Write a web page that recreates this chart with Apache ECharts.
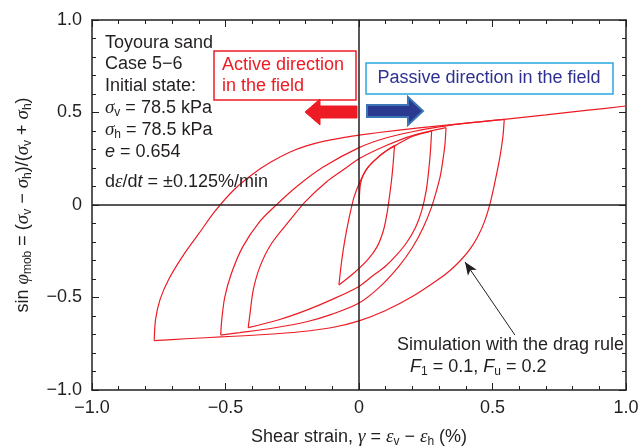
<!DOCTYPE html>
<html>
<head>
<meta charset="utf-8">
<script src="https://cdn.jsdelivr.net/npm/echarts@6/dist/echarts.min.js"></script>
<style>
  html, body { margin: 0; padding: 0; background: #fff; }
  #main { width: 638px; height: 448px; }
</style>
</head>
<body>
<div id="main"></div>
<script>
// axis ticks
var xTicks = [-1, -0.5, 0, 0.5, 1];
var xTickLabels = ['\u22121.0', '\u22120.5', '0', '0.5', '1.0'];
var yTicks = [-1, -0.5, 0, 0.5, 1];
var yTickLabels = ['\u22121.0', '\u22120.5', '0', '0.5', '1.0'];

// branches of the simulated stress-strain path (strain %, sin phi_mob)
var virginLoad = [[0, 0], [0.002, 0.06], [0.006, 0.117], [0.016, 0.162], [0.035, 0.207], [0.066, 0.252], [0.097, 0.288], [0.133, 0.322]];
var unloadA = [[0.133, 0.322], [0.128, 0.225], [0.122, 0.135], [0.114, 0.045], [0.105, -0.045], [0.092, -0.135], [0.068, -0.225], [0.032, -0.297], [-0.02, -0.369], [-0.075, -0.432]];
var reloadA = [[-0.075, -0.432], [-0.066, -0.315], [-0.053, -0.189], [-0.036, -0.063], [-0.018, 0.045], [0.002, 0.12], [0.027, 0.19], [0.062, 0.245], [0.1, 0.29], [0.14, 0.325], [0.2, 0.37], [0.272, 0.4]];
var unloadB = [[0.272, 0.4], [0.268, 0.3], [0.262, 0.2], [0.252, 0.08], [0.235, -0.03], [0.212, -0.12], [0.18, -0.2], [0.141, -0.27], [0.1, -0.33], [0.054, -0.38], [0, -0.44], [-0.1, -0.51], [-0.196, -0.568], [-0.3, -0.62], [-0.415, -0.663]];
var reloadB = [[-0.415, -0.663], [-0.408, -0.585], [-0.396, -0.459], [-0.371, -0.333], [-0.327, -0.207], [-0.258, -0.081], [-0.2, 0.02], [-0.121, 0.126], [-0.059, 0.19], [0, 0.25], [0.1, 0.32], [0.2, 0.375], [0.326, 0.418]];
var unloadC = [[0.326, 0.418], [0.322, 0.33], [0.316, 0.261], [0.305, 0.16], [0.291, 0.081], [0.272, -0.01], [0.241, -0.12], [0.2, -0.23], [0.15, -0.33], [0.079, -0.441], [0, -0.53], [-0.1, -0.59], [-0.196, -0.631], [-0.32, -0.665], [-0.446, -0.69], [-0.518, -0.703]];
var reloadC = [[-0.518, -0.703], [-0.514, -0.62], [-0.503, -0.5], [-0.478, -0.37], [-0.435, -0.225], [-0.372, -0.09], [-0.31, 0], [-0.233, 0.1], [-0.134, 0.205], [0, 0.31], [0.1, 0.362], [0.2, 0.396], [0.3, 0.422], [0.42, 0.445], [0.544, 0.463]];
var unloadD = [[0.544, 0.463], [0.539, 0.37], [0.528, 0.261], [0.51, 0.13], [0.491, 0.009], [0.47, -0.09], [0.445, -0.17], [0.415, -0.24], [0.38, -0.3], [0.34, -0.355], [0.29, -0.41], [0.2, -0.495], [0.1, -0.57], [0, -0.626], [-0.1, -0.662], [-0.22, -0.685], [-0.35, -0.7], [-0.5, -0.712], [-0.65, -0.723], [-0.767, -0.733]];
var reloadD = [[-0.767, -0.733], [-0.762, -0.62], [-0.745, -0.51], [-0.712, -0.4], [-0.662, -0.28], [-0.6, -0.155], [-0.54, -0.035], [-0.47, 0.08], [-0.4, 0.165], [-0.33, 0.232], [-0.26, 0.285], [-0.2, 0.318], [-0.13, 0.345], [-0.06, 0.364], [0, 0.378], [0.15, 0.405], [0.3, 0.428], [0.45, 0.449], [0.544, 0.463], [0.7, 0.487], [0.85, 0.511], [1.0, 0.535]];

// pointer from the caption to the curve
var pointerTail = [0.584, -0.703];
var pointerHead = [0.397, -0.308];

var INK = '#231f20';
var RED = '#ed1c24';
var SANS = 'Liberation Sans, Arial, sans-serif';
var SERIF = 'Liberation Serif, Times New Roman, serif';

var myChart = echarts.init(document.getElementById('main'));

// rich styles: g = greek italic serif, i = italic sans, s = subscript
var richOpt = {
  g: { fontFamily: SERIF, fontStyle: 'italic', fontSize: 19, color: INK, lineHeight: 22 },
  i: { fontFamily: SANS, fontStyle: 'italic', fontSize: 18, color: INK, lineHeight: 22 },
  s: { fontFamily: SANS, fontSize: 12, color: INK, lineHeight: 12, verticalAlign: 'bottom' }
};
var richGfx = {
  g: { fontFamily: SERIF, fontStyle: 'italic', fontSize: 19, fill: INK, lineHeight: 22 },
  i: { fontFamily: SANS, fontStyle: 'italic', fontSize: 18, fill: INK, lineHeight: 22 },
  s: { fontFamily: SANS, fontSize: 12, fill: INK, lineHeight: 12, verticalAlign: 'bottom' }
};

function tickFmt(ticks, labels) {
  return function (v) {
    var i = ticks.indexOf(v);
    return i < 0 ? '' : labels[i];
  };
}

function makeX(pos) {
  return {
    type: 'value', min: -1, max: 1, interval: 0.5, position: pos,
    axisLine: { onZero: false, lineStyle: { color: INK, width: 1.5 } },
    axisTick: { inside: true, length: 7, lineStyle: { color: INK, width: 1 } },
    minorTick: { show: true, splitNumber: 5, length: 4, lineStyle: { color: INK, width: 1 } },
    splitLine: { show: false },
    minorSplitLine: { show: false },
    axisLabel: pos === 'bottom'
      ? { formatter: tickFmt(xTicks, xTickLabels), color: INK, fontSize: 18, fontFamily: SANS, margin: 9 }
      : { show: false }
  };
}
function makeY(pos) {
  return {
    type: 'value', min: -1, max: 1, interval: 0.5, position: pos,
    axisLine: { onZero: false, lineStyle: { color: INK, width: 1.5 } },
    axisTick: { inside: true, length: 7, lineStyle: { color: INK, width: 1 } },
    minorTick: { show: true, splitNumber: 5, length: 4, lineStyle: { color: INK, width: 1 } },
    splitLine: { show: false },
    minorSplitLine: { show: false },
    axisLabel: pos === 'left'
      ? { formatter: tickFmt(yTicks, yTickLabels), color: INK, fontSize: 18, fontFamily: SANS, margin: 10 }
      : { show: false }
  };
}

var xA = makeX('bottom');
xA.name = 'Shear strain, {g|\u03b3} = {g|\u03b5}{s|v} \u2212 {g|\u03b5}{s|h} (%)';
xA.nameLocation = 'middle';
xA.nameGap = 36;
xA.nameTextStyle = { color: INK, fontSize: 18, fontFamily: SANS, lineHeight: 22, rich: richOpt };

var yA = makeY('left');
yA.name = 'sin {g|\u03c6}{s|mob} = ({g|\u03c3}{s|v} \u2212 {g|\u03c3}{s|h})/({g|\u03c3}{s|v} + {g|\u03c3}{s|h})';
yA.nameLocation = 'middle';
yA.nameGap = 58;
yA.nameTextStyle = { color: INK, fontSize: 18, fontFamily: SANS, lineHeight: 22, rich: richOpt };

var branches = [virginLoad, unloadA, reloadA, unloadB, reloadB, unloadC, reloadC, unloadD, reloadD];
var series = branches.map(function (d, k) {
  var s = {
    type: 'line', data: d, xAxisIndex: 0, yAxisIndex: 0,
    showSymbol: false, smooth: 0.3, silent: true, animation: false,
    lineStyle: { color: RED, width: 1.2 }, z: 3
  };
  if (k === 0) {
    s.markLine = {
      silent: true, animation: false, symbol: ['none', 'none'],
      label: { show: false },
      lineStyle: { color: INK, width: 1.5, type: 'solid' },
      data: [
        { xAxis: 0 },
        { yAxis: 0 },
        [
          { coord: pointerTail, symbol: 'none', lineStyle: { color: INK, width: 1, type: 'solid' } },
          { coord: pointerHead, symbol: 'arrow', symbolSize: [8, 13] }
        ]
      ]
    };
  }
  return s;
});

function txt(x, y, text, extra) {
  var st = { text: text, x: x, y: y, fill: INK, fontSize: 18, fontFamily: SANS,
             verticalAlign: 'middle', lineHeight: 22, rich: richGfx };
  for (var k in extra) st[k] = extra[k];
  return { type: 'text', z: 10, style: st };
}

var graphics = [
  txt(105, 43, 'Toyoura sand'),
  txt(105, 64, 'Case 5\u22126'),
  txt(105, 86, 'Initial state:'),
  txt(105, 108, '{g|\u03c3}{s|v} = 78.5 kPa'),
  txt(105, 130, '{g|\u03c3}{s|h} = 78.5 kPa'),
  txt(105, 152, '{i|e} = 0.654'),
  txt(105, 182, 'd{g|\u03b5}/d{i|t} = \u00b10.125%/min'),
  // active direction box
  { type: 'rect', z: 10, shape: { x: 214, y: 51, width: 142, height: 49 },
    style: { fill: '#fff', stroke: RED, lineWidth: 1.5 } },
  txt(222, 65, 'Active direction', { fill: RED }),
  txt(222, 86, 'in the field', { fill: RED }),
  { type: 'polygon', z: 10,
    shape: { points: [[305, 112], [320, 99], [320, 106], [357, 106], [357, 118], [320, 118], [320, 125]] },
    style: { fill: RED, stroke: RED, lineWidth: 1 } },
  // passive direction box
  { type: 'rect', z: 10, shape: { x: 366, y: 63, width: 247, height: 31 },
    style: { fill: '#fff', stroke: '#29a8e0', lineWidth: 1.5 } },
  txt(489, 78, 'Passive direction in the field', { fill: '#2e3192', align: 'center' }),
  { type: 'polygon', z: 10,
    shape: { points: [[367, 105], [408, 105], [408, 97], [423, 111], [408, 125], [408, 117], [367, 117]] },
    style: { fill: '#2b3990', stroke: '#3b75b5', lineWidth: 2 } },
  // caption
  txt(397, 345, 'Simulation with the drag rule'),
  txt(410, 367, '{i|F}{s|1} = 0.1, {i|F}{s|u} = 0.2')
];

myChart.setOption({
  animation: false,
  backgroundColor: '#fff',
  grid: { left: 92, right: 12, top: 20, bottom: 58, containLabel: false, outerBoundsMode: 'none' },
  xAxis: [xA, makeX('top')],
  yAxis: [yA, makeY('right')],
  series: series,
  graphic: graphics
});
</script>
</body>
</html>
